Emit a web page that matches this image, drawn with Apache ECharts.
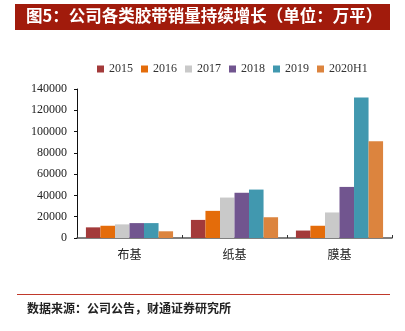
<!DOCTYPE html>
<html><head><meta charset="utf-8">
<script src="https://cdn.jsdelivr.net/npm/echarts@6/dist/echarts.min.js"></script>
<style>html,body{margin:0;padding:0;background:#fff}#c{width:405px;height:331px}</style>
</head><body><div id="c"></div>
<script>
const categories = ['布基', '纸基', '膜基'];
const seriesNames = ['2015', '2016', '2017', '2018', '2019', '2020H1'];
const v2015 = [10000, 17000, 7000];
const v2016 = [11500, 25500, 11500];
const v2017 = [12800, 38000, 24000];
const v2018 = [14000, 42500, 48000];
const v2019 = [14000, 45500, 132000];
const v2020H1 = [6300, 19500, 91000];
const yTicks = [0, 20000, 40000, 60000, 80000, 100000, 120000, 140000];
const colors = ['#A33A3A', '#E46C0A', '#C9C9C9', '#71558F', '#4198AF', '#DC843E'];
const allValues = [v2015, v2016, v2017, v2018, v2019, v2020H1];

const chart = echarts.init(document.getElementById('c'));
chart.setOption({
  animation: false,
  color: colors,
  graphic: [
    {type: 'rect', shape: {x: 15, y: 4, width: 375, height: 26}, style: {fill: '#A11B0C'}},
    {type: 'text', left: 26, top: 7, style: {text: '图5：公司各类胶带销量持续增长（单位：万平）', fill: '#fff', font: 'bold 16.5px "Noto Sans CJK SC"'}},
    {type: 'rect', shape: {x: 17, y: 294, width: 373, height: 1}, style: {fill: '#C0392B'}},
    {type: 'text', left: 27, top: 302, style: {text: '数据来源：公司公告，财通证券研究所', fill: '#222', font: 'bold 12px "Noto Sans CJK SC"'}}
  ],
  legend: {
    top: 58, left: 92,
    itemWidth: 7, itemHeight: 7, itemGap: 8,
    icon: 'rect',
    textStyle: {fontFamily: 'Liberation Serif', fontSize: 12, color: '#333'},
    data: seriesNames
  },
  grid: {left: 77, right: 13, top: 89, bottom: 93},
  xAxis: {
    type: 'category', data: categories,
    axisLine: {lineStyle: {color: '#555', width: 1.5}},
    axisTick: {show: true, inside: true, length: 3, lineStyle: {color: '#333'}},
    axisLabel: {fontFamily: '"Noto Sans CJK SC"', fontSize: 12, color: '#222', margin: 10}
  },
  yAxis: {
    type: 'value', min: 0, max: 140000, interval: 20000,
    axisLine: {show: true, lineStyle: {color: '#111'}},
    axisTick: {show: true, length: 3, lineStyle: {color: '#111'}},
    splitLine: {show: false},
    axisLabel: {fontFamily: 'Liberation Serif', fontSize: 12, color: '#222', margin: 10,
      formatter: v => yTicks.includes(v) ? String(v) : ''}
  },
  series: seriesNames.map((n, i) => ({
    name: n, type: 'bar', data: allValues[i],
    barGap: '0%', barCategoryGap: '17%',
    itemStyle: {color: colors[i]}
  }))
});
</script></body></html>
